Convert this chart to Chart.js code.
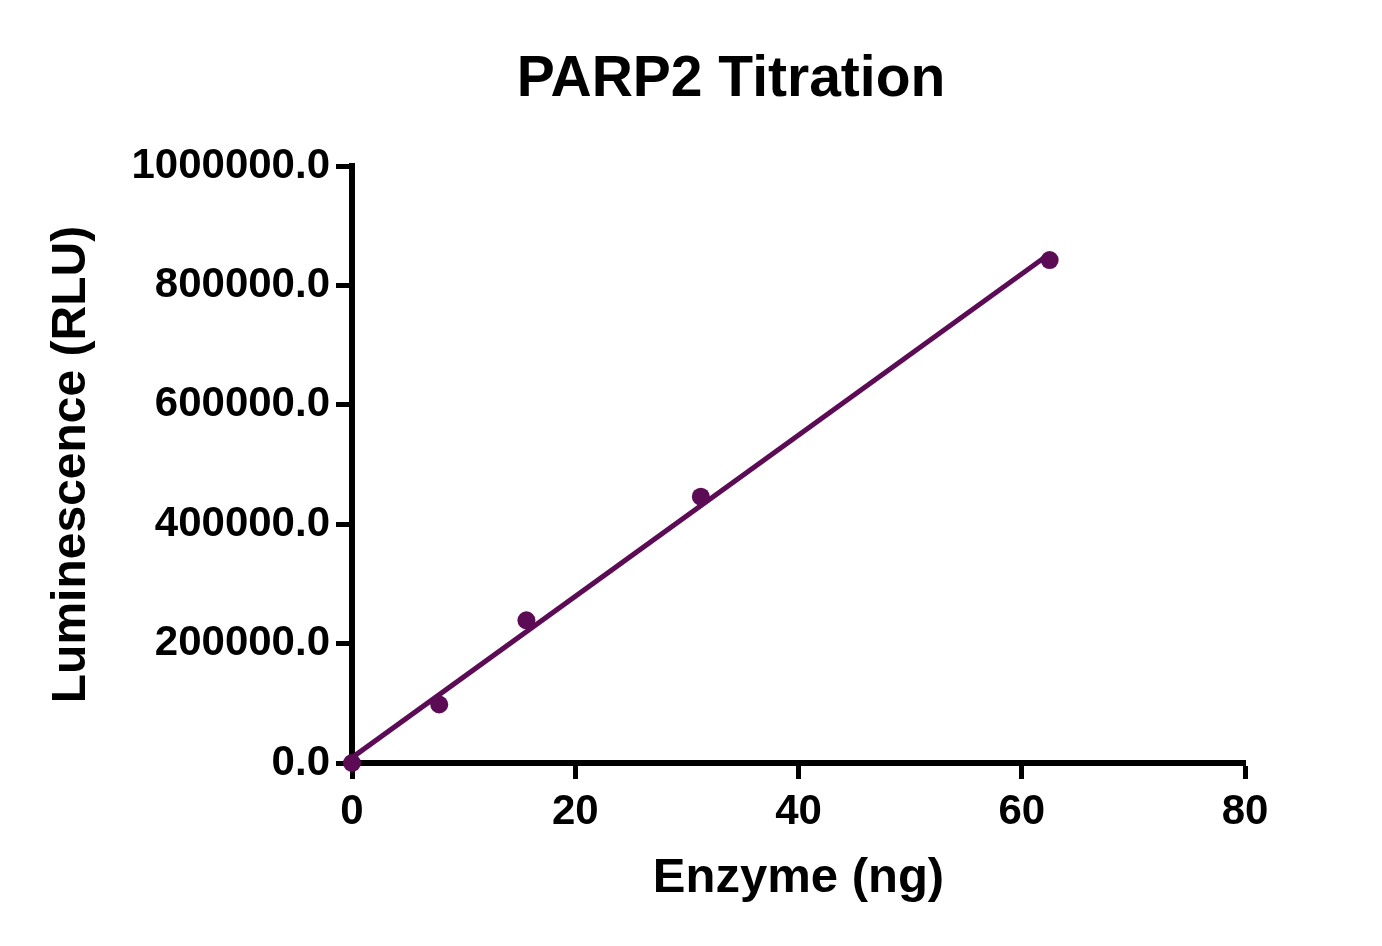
<!DOCTYPE html>
<html>
<head>
<meta charset="utf-8">
<script src="https://cdn.jsdelivr.net/npm/chart.js@4.4.0/dist/chart.umd.min.js"></script>
<style>
  html, body { margin: 0; padding: 0; background: #ffffff; }
  #wrap { width: 1382px; height: 946px; position: relative; }
</style>
</head>
<body>
<div id="wrap"><canvas id="c" width="1382" height="946"></canvas></div>
<script>
// ---- data ----
const chartTitle = "PARP2 Titration";
const xAxisTitle = "Enzyme (ng)";
const yAxisTitle = "Luminescence (RLU)";
const enzymeNg = [0, 7.8125, 15.625, 31.25, 62.5];
const luminescence = [0, 98000, 239000, 446000, 842500];
const fitX = [0, 62.5];
const fitY = [9000, 853000];
const xTicks = [0, 20, 40, 60, 80];
const yTicks = [0, 200000, 400000, 600000, 800000, 1000000];

const purple = "#5C0B55";
const FONT = "'Liberation Sans', Arial, Helvetica, sans-serif";

const pointsData = enzymeNg.map((x, i) => ({ x: x, y: luminescence[i] }));
const fitData = fitX.map((x, i) => ({ x: x, y: fitY[i] }));

const titlePlugin = {
  id: 'pageTitle',
  afterDraw(chart) {
    const ctx = chart.ctx;
    ctx.save();
    ctx.fillStyle = '#000';
    ctx.font = "bold 57px " + FONT;
    ctx.textAlign = 'center';
    ctx.textBaseline = 'alphabetic';
    ctx.fillText(chartTitle, 731, 96);
    ctx.restore();
  }
};

new Chart(document.getElementById('c'), {
  type: 'scatter',
  data: {
    datasets: [
      {
        label: 'fit',
        data: fitData,
        showLine: true,
        borderColor: purple,
        borderWidth: 5,
        pointRadius: 0,
        pointHoverRadius: 0,
        clip: false,
        order: 2
      },
      {
        label: 'data',
        data: pointsData,
        showLine: false,
        backgroundColor: purple,
        borderColor: purple,
        borderWidth: 0,
        pointRadius: 9,
        pointHoverRadius: 9,
        clip: false,
        order: 1
      }
    ]
  },
  plugins: [titlePlugin],
  options: {
    responsive: false,
    animation: false,
    devicePixelRatio: 1,
    layout: { padding: { left: 0, right: 137, top: 166, bottom: 0 } },
    plugins: {
      legend: { display: false },
      tooltip: { enabled: false },
      title: { display: false }
    },
    scales: {
      x: {
        type: 'linear',
        min: xTicks[0],
        max: xTicks[xTicks.length - 1],
        afterBuildTicks: (s) => { s.ticks = xTicks.map(v => ({ value: v })); },
        afterFit: (s) => { s.height = 183; },
        ticks: {
          color: '#000',
          font: { family: FONT, size: 42, weight: 'bold' },
          padding: 8,
          maxRotation: 0,
          autoSkip: false,
          callback: (v) => String(v)
        },
        grid: {
          drawOnChartArea: false,
          drawTicks: true,
          tickLength: 16,
          tickWidth: 5,
          tickColor: '#000',
          color: '#000'
        },
        border: { display: true, color: '#000', width: 6 },
        title: {
          display: true,
          text: xAxisTitle,
          color: '#000',
          font: { family: FONT, size: 49, weight: 'bold' },
          padding: { top: 0, bottom: 38 }
        }
      },
      y: {
        type: 'linear',
        min: yTicks[0],
        max: yTicks[yTicks.length - 1],
        afterBuildTicks: (s) => { s.ticks = yTicks.map(v => ({ value: v })); },
        afterFit: (s) => { s.width = 352; },
        ticks: {
          color: '#000',
          font: { family: FONT, size: 42, weight: 'bold' },
          padding: 6,
          autoSkip: false,
          callback: (v) => Number(v).toFixed(1)
        },
        grid: {
          drawOnChartArea: false,
          drawTicks: true,
          tickLength: 16,
          tickWidth: 5,
          tickColor: '#000',
          color: '#000'
        },
        border: { display: true, color: '#000', width: 6 },
        title: {
          display: true,
          text: yAxisTitle,
          color: '#000',
          font: { family: FONT, size: 48, weight: 'bold' },
          padding: { top: 43, bottom: 0 }
        }
      }
    }
  }
});
</script>
</body>
</html>
